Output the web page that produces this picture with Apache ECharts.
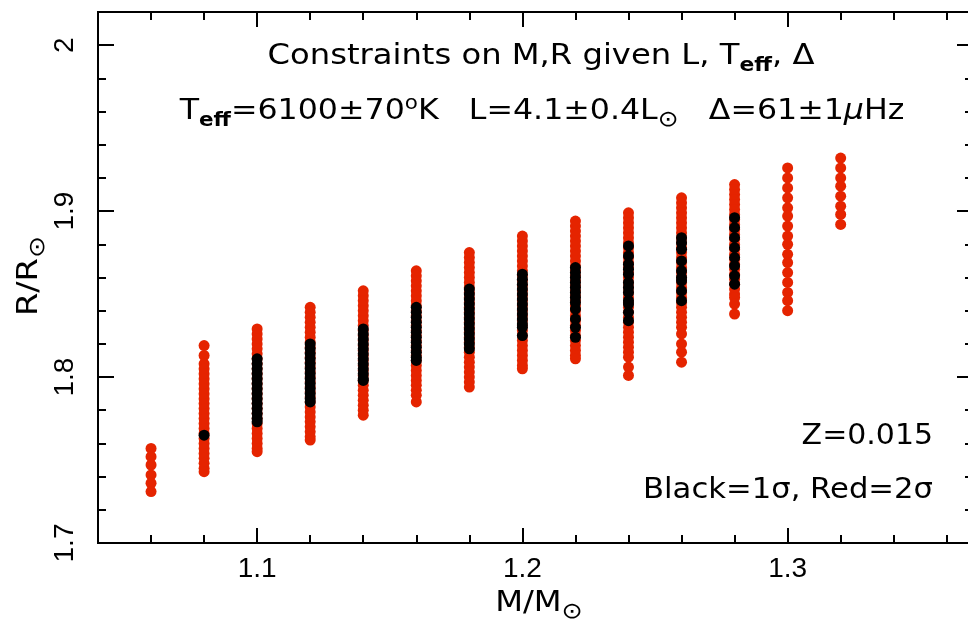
<!DOCTYPE html>
<html>
<head>
<meta charset="utf-8">
<script src="https://cdn.jsdelivr.net/npm/echarts@6/dist/echarts.min.js"></script>
<style>
html,body{margin:0;padding:0;background:#fff;}
#chart{width:968px;height:623px;}
</style>
</head>
<body>
<div id="chart"></div>
<script>
// ---- data ----
const masses = [1.06, 1.08, 1.10, 1.12, 1.14, 1.16, 1.18, 1.20, 1.22, 1.24, 1.26, 1.28, 1.30, 1.32];

const redR = [
  [1.757, 1.752, 1.747, 1.741, 1.736, 1.731],
  [1.819, 1.813, 1.808, 1.805, 1.802, 1.799, 1.796, 1.793, 1.790, 1.787, 1.784, 1.781, 1.778, 1.775, 1.772, 1.769, 1.766, 1.763, 1.760, 1.757, 1.754, 1.751, 1.748, 1.745, 1.743],
  [1.829, 1.826, 1.823, 1.820, 1.817, 1.814, 1.811, 1.808, 1.805, 1.802, 1.799, 1.796, 1.793, 1.790, 1.787, 1.784, 1.781, 1.778, 1.775, 1.772, 1.769, 1.766, 1.763, 1.760, 1.757, 1.755],
  [1.842, 1.839, 1.836, 1.833, 1.830, 1.827, 1.824, 1.821, 1.818, 1.815, 1.812, 1.809, 1.806, 1.803, 1.800, 1.797, 1.794, 1.791, 1.788, 1.785, 1.782, 1.779, 1.776, 1.773, 1.770, 1.767, 1.764, 1.762],
  [1.852, 1.849, 1.846, 1.843, 1.840, 1.837, 1.834, 1.831, 1.828, 1.825, 1.822, 1.819, 1.816, 1.813, 1.810, 1.807, 1.804, 1.801, 1.798, 1.795, 1.792, 1.789, 1.786, 1.783, 1.780, 1.777],
  [1.864, 1.861, 1.858, 1.855, 1.852, 1.849, 1.846, 1.843, 1.840, 1.837, 1.834, 1.831, 1.828, 1.825, 1.822, 1.819, 1.816, 1.813, 1.810, 1.807, 1.804, 1.801, 1.798, 1.795, 1.792, 1.789, 1.785],
  [1.875, 1.872, 1.869, 1.866, 1.863, 1.860, 1.857, 1.854, 1.851, 1.848, 1.845, 1.842, 1.839, 1.836, 1.833, 1.830, 1.827, 1.824, 1.821, 1.818, 1.815, 1.812, 1.809, 1.806, 1.803, 1.800, 1.797, 1.794],
  [1.885, 1.882, 1.879, 1.876, 1.873, 1.870, 1.867, 1.864, 1.861, 1.858, 1.855, 1.852, 1.849, 1.846, 1.843, 1.840, 1.837, 1.834, 1.831, 1.828, 1.825, 1.822, 1.819, 1.816, 1.813, 1.810, 1.807, 1.805],
  [1.894, 1.891, 1.888, 1.885, 1.882, 1.879, 1.876, 1.873, 1.870, 1.867, 1.864, 1.861, 1.858, 1.855, 1.852, 1.849, 1.846, 1.843, 1.840, 1.837, 1.834, 1.831, 1.828, 1.825, 1.822, 1.819, 1.816, 1.813, 1.811],
  [1.899, 1.896, 1.893, 1.890, 1.887, 1.884, 1.881, 1.878, 1.875, 1.872, 1.869, 1.866, 1.863, 1.860, 1.857, 1.854, 1.851, 1.848, 1.845, 1.842, 1.839, 1.836, 1.833, 1.830, 1.827, 1.824, 1.821, 1.818, 1.815, 1.812, 1.806, 1.801],
  [1.908, 1.905, 1.902, 1.899, 1.896, 1.893, 1.890, 1.887, 1.884, 1.881, 1.878, 1.875, 1.872, 1.869, 1.866, 1.863, 1.860, 1.857, 1.854, 1.851, 1.848, 1.845, 1.842, 1.839, 1.836, 1.833, 1.830, 1.826, 1.820, 1.815, 1.809],
  [1.916, 1.913, 1.910, 1.907, 1.904, 1.901, 1.898, 1.895, 1.892, 1.889, 1.886, 1.883, 1.880, 1.877, 1.874, 1.871, 1.868, 1.865, 1.862, 1.859, 1.856, 1.853, 1.850, 1.848, 1.844, 1.838],
  [1.926, 1.920, 1.914, 1.908, 1.902, 1.897, 1.891, 1.885, 1.880, 1.874, 1.869, 1.863, 1.857, 1.851, 1.846, 1.840],
  [1.932, 1.926, 1.920, 1.915, 1.909, 1.903, 1.898, 1.892]
];

const blackR = [
  [],
  [1.765],
  [1.811, 1.808, 1.805, 1.802, 1.799, 1.796, 1.793, 1.790, 1.787, 1.784, 1.781, 1.778, 1.775, 1.773],
  [1.820, 1.817, 1.814, 1.811, 1.808, 1.805, 1.802, 1.799, 1.796, 1.793, 1.790, 1.787, 1.785],
  [1.829, 1.826, 1.823, 1.820, 1.817, 1.814, 1.811, 1.808, 1.805, 1.802, 1.799, 1.798],
  [1.842, 1.839, 1.836, 1.833, 1.830, 1.827, 1.824, 1.821, 1.818, 1.815, 1.812, 1.810],
  [1.853, 1.850, 1.847, 1.844, 1.841, 1.838, 1.835, 1.832, 1.829, 1.826, 1.823, 1.820, 1.817],
  [1.862, 1.859, 1.856, 1.853, 1.850, 1.847, 1.844, 1.841, 1.838, 1.835, 1.832, 1.830, 1.825],
  [1.866, 1.863, 1.860, 1.857, 1.854, 1.851, 1.848, 1.845, 1.841, 1.835, 1.830, 1.824],
  [1.879, 1.873, 1.868, 1.865, 1.862, 1.857, 1.854, 1.851, 1.846, 1.844, 1.839, 1.834],
  [1.884, 1.881, 1.877, 1.870, 1.864, 1.860, 1.858, 1.852, 1.846],
  [1.896, 1.890, 1.884, 1.878, 1.872, 1.867, 1.861, 1.856],
  [],
  []
];

const xMajorTicks = [1.1, 1.2, 1.3];
const xMinorTicks = [1.06, 1.08, 1.12, 1.14, 1.16, 1.18, 1.22, 1.24, 1.26, 1.28, 1.32, 1.34, 1.36];
const yMajorTicks = [1.7, 1.8, 1.9, 2.0];
const yMinorTicks = [1.72, 1.74, 1.76, 1.78, 1.82, 1.84, 1.86, 1.88, 1.92, 1.94, 1.96, 1.98, 2.0];

// ---- build ----
const toPoints = (cols) => {
  const out = [];
  cols.forEach((vals, i) => vals.forEach(r => out.push([masses[i], r])));
  return out;
};
const redData = toPoints(redR);
const blackData = toPoints(blackR);

const FONT = 'Liberation Sans';
const TFONT = 'DejaVu Sans';
const XMIN = 1.04, XMAX = 1.368, YMIN = 1.7, YMAX = 2.02;

function xAx(pos, ticks, len, labels) {
  return {
    type: 'value', position: pos, min: XMIN, max: XMAX,
    axisLine: { show: true, onZero: false, lineStyle: { color: '#000', width: 2 } },
    axisTick: { show: true, inside: true, length: len, customValues: ticks, lineStyle: { color: '#000', width: 2 } },
    axisLabel: labels ? { show: true, customValues: ticks, color: '#000', fontSize: 28, fontFamily: FONT, margin: 12,
                         formatter: v => (+v).toFixed(1) } : { show: false },
    splitLine: { show: false }
  };
}
function yAx(pos, ticks, len, labels, lineShow) {
  return {
    type: 'value', position: pos, min: YMIN, max: YMAX,
    axisLine: { show: lineShow, onZero: false, lineStyle: { color: '#000', width: 2 } },
    axisTick: { show: true, inside: true, length: len, customValues: ticks, lineStyle: { color: '#000', width: 2 } },
    axisLabel: labels ? { show: true, customValues: ticks, color: '#000', fontSize: 28, fontFamily: FONT, margin: 19, rotate: 90,
                         formatter: v => { const s = (+v).toFixed(1); return s === '2.0' ? '2' : s; } } : { show: false },
    splitLine: { show: false }
  };
}

const richBase = {
  sub: { fontSize: 19, fontWeight: 'bold', fontFamily: TFONT, padding: [18, 0, 0, 0] },
  sun: { fontSize: 22, fontFamily: TFONT, padding: [16, 0, 0, 0] },
  sup: { fontSize: 19, fontFamily: TFONT, padding: [0, 0, 16, 0] },
  mu: { fontSize: 28, fontStyle: 'italic', fontFamily: TFONT }
};
const tfont = '28px "' + TFONT + '"';

const chart = echarts.init(document.getElementById('chart'), null, { renderer: 'canvas' });
chart.setOption({
  animation: false,
  backgroundColor: '#fff',
  grid: { left: 98, right: 0, top: 12, bottom: 80, containLabel: false },
  xAxis: [
    xAx('bottom', xMajorTicks, 15, true),
    xAx('bottom', xMinorTicks, 8, false),
    xAx('top', xMajorTicks, 15, false),
    xAx('top', xMinorTicks, 8, false)
  ],
  yAxis: [
    yAx('left', yMajorTicks, 16, true, true),
    yAx('left', yMinorTicks, 8, false, true),
    // the right frame line lies just beyond the picture edge; only its inner tick stubs show
    yAx('right', yMajorTicks, 11, false, false),
    yAx('right', yMinorTicks, 3, false, false)
  ],
  series: [
    { type: 'scatter', name: '2σ', xAxisIndex: 0, yAxisIndex: 0, data: redData, symbol: 'circle', symbolSize: 11,
      itemStyle: { color: '#e52400', opacity: 1 }, emphasis: { disabled: true }, z: 2 },
    { type: 'scatter', name: '1σ', xAxisIndex: 0, yAxisIndex: 0, data: blackData, symbol: 'circle', symbolSize: 11,
      itemStyle: { color: '#000', opacity: 1 }, emphasis: { disabled: true }, z: 3 }
  ],
  graphic: [
    { type: 'text', x: 541, y: 57, scaleX: 1.15, style: { text: 'Constraints on M,R given L, T{sub|eff}, Δ', font: tfont,
      fill: '#000', align: 'center', verticalAlign: 'middle', rich: richBase } },
    { type: 'text', x: 542, y: 112, scaleX: 1.13, style: { text: 'T{sub|eff}=6100±70{sup|o}K   L=4.1±0.4L{sun|⊙}   Δ=61±1{mu|μ}Hz', font: tfont,
      fill: '#000', align: 'center', verticalAlign: 'middle', rich: richBase } },
    { type: 'text', x: 933, y: 437, scaleX: 1.07, style: { text: 'Z=0.015', font: tfont, fill: '#000', align: 'right', verticalAlign: 'middle' } },
    { type: 'text', x: 933, y: 491, scaleX: 1.095, style: { text: 'Black=1σ, Red=2σ', font: tfont, fill: '#000', align: 'right', verticalAlign: 'middle' } },
    { type: 'text', x: 539, y: 604, scaleX: 1.15, style: { text: 'M/M{sun|⊙}', font: tfont, fill: '#000', align: 'center', verticalAlign: 'middle', rich: richBase } },
    { type: 'text', x: 30, y: 276, rotation: Math.PI / 2, scaleX: 1.2, style: { text: 'R/R{sun|⊙}', font: tfont, fill: '#000', align: 'center', verticalAlign: 'middle', rich: richBase } }
  ]
});
</script>
</body>
</html>
